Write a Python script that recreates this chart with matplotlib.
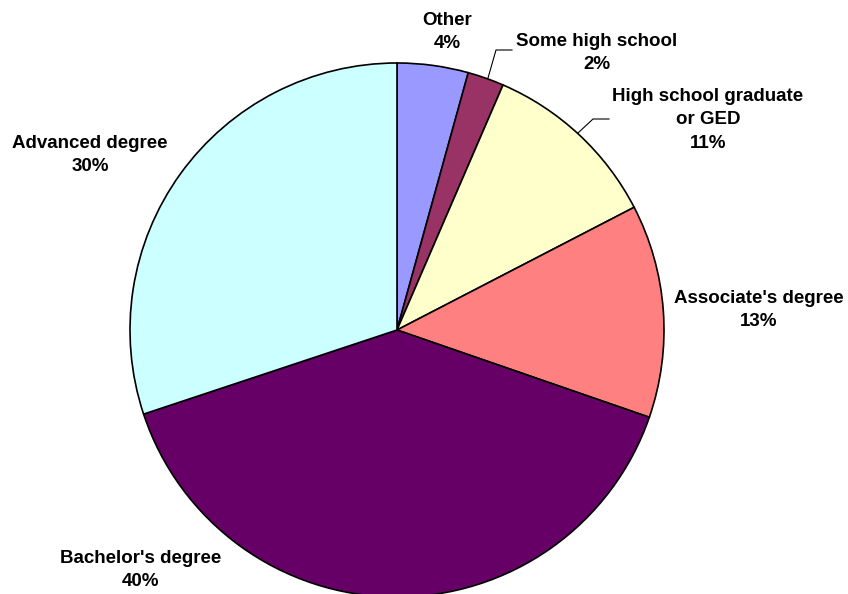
import matplotlib
matplotlib.use("Agg")
import matplotlib.pyplot as plt

# Highest level of education (share of respondents, %)
categories = ["Other", "Some high school", "High school graduate\nor GED",
              "Associate's degree", "Bachelor's degree", "Advanced degree"]
shares = [4.3, 2.2, 10.9, 12.9, 39.6, 30.1]
colors = ["#9999FF", "#993366", "#FFFFCC", "#FF8080", "#660066", "#CCFFFF"]

# Label anchor points (pixel layout, y measured from the top)
label_xy = [(447, 32), (597, 53), (708, 120), (759, 310), (141, 570), (90, 155)]
# Leader lines for the crowded slices: (slice index, polyline points)
leaders = [
    (1, [(488, 78), (496, 50), (512, 50)]),
    (2, [(578, 133), (593, 119), (609, 119)]),
]

W, H = 848, 594
fig = plt.figure(figsize=(W / 100, H / 100), dpi=100)
ax = fig.add_axes([0, 0, 1, 1])

center = (397, H - 330)
radius = 267
wedges, _ = ax.pie(shares, colors=colors, startangle=90, counterclock=False,
                   center=center, radius=radius, frame=True,
                   wedgeprops=dict(edgecolor="black", linewidth=1.2))
ax.set_xlim(0, W)
ax.set_ylim(0, H)
ax.set_aspect("equal")
ax.axis("off")

font = dict(family=["Liberation Sans", "DejaVu Sans"], fontweight="bold",
            fontsize=13.5, color="black")
for name, val, (x, y) in zip(categories, shares, label_xy):
    ax.text(x, H - y, f"{name}\n{val:.0f}%", ha="center", va="center",
            linespacing=1.48, **font)

for _, pts in leaders:
    xs = [p[0] for p in pts]
    ys = [H - p[1] for p in pts]
    ax.plot(xs, ys, color="black", linewidth=0.8)

fig.savefig("out.png", dpi=100)
